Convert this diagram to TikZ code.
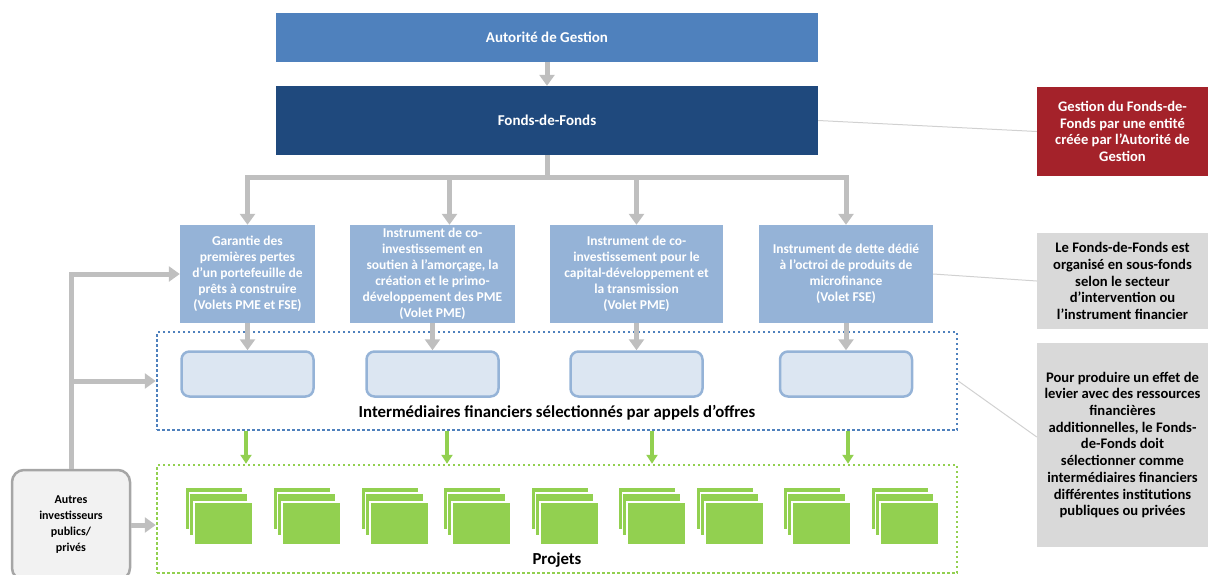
\documentclass[tikz,border=0pt]{standalone}
\usepackage{fontspec}
\setmainfont{Carlito}
\usetikzlibrary{arrows.meta,positioning}

\definecolor{autblue}{HTML}{4F81BD}
\definecolor{fdfblue}{HTML}{1F497D}
\definecolor{subblue}{HTML}{95B3D7}
\definecolor{intfill}{HTML}{DCE6F2}
\definecolor{arrowgray}{HTML}{BFBFBF}
\definecolor{notegray}{HTML}{D9D9D9}
\definecolor{notered}{HTML}{A4222A}
\definecolor{projgreen}{HTML}{92D050}
\definecolor{autresfill}{HTML}{F2F2F2}
\definecolor{autresdraw}{HTML}{A6A6A6}

\tikzset{
  boxfont/.style={font=\bfseries\fontsize{13.5}{16}\selectfont},
  topbox/.style={font=\bfseries\fontsize{15}{18}\selectfont, text=white, align=center, inner sep=0pt, minimum width=542pt},
  subbox/.style={boxfont, fill=subblue, text=white, align=center, inner sep=0pt, minimum height=98pt},
  intbox/.style={fill=intfill, draw=subblue, line width=2.5pt, rounded corners=8pt,
    minimum width=132pt, minimum height=45pt, inner sep=0pt},
  notebox/.style={font=\bfseries\fontsize{14.6}{16.7}\selectfont, align=center,
    inner sep=0pt, minimum width=171pt},
  biglabel/.style={font=\bfseries\fontsize{16.8}{20}\selectfont},
  grayarrow/.style={draw=arrowgray, line width=5pt, -{Triangle[width=15pt,length=11pt]}},
  greenarrow/.style={draw=projgreen, line width=3.5pt, -{Triangle[width=11pt,length=9pt]}},
  noteline/.style={draw=black!18, line width=1pt},
  doc/.style={fill=projgreen, draw=white, line width=1.2pt}
}

\begin{document}
\begin{tikzpicture}[x=1pt,y=-1pt]
  \useasboundingbox (0,0) rectangle (1208,574);
  \clip (0,0) rectangle (1208,574);

  % top of the structure
  \node[topbox, fill=autblue, minimum height=49pt] (autorite) at (547,37.5) {Autorité de Gestion};
  \node[topbox, fill=fdfblue, minimum height=69pt] (fdf) at (547,120.5) {Fonds-de-Fonds};

  % sous-fonds
  \node[subbox, minimum width=135pt] (sub1) at (247.5,274)
    {Garantie des\\premières pertes\\d’un portefeuille de\\prêts à construire\\(Volets PME et FSE)};
  \node[subbox, minimum width=165pt] (sub2) at (432.5,274)
    {Instrument de co-\\investissement en\\soutien à l’amorçage, la\\création et le primo-\\développement des PME\\(Volet PME)};
  \node[subbox, minimum width=173pt] (sub3) at (636.5,274)
    {Instrument de co-\\investissement pour le\\capital-développement et\\la transmission\\(Volet PME)};
  \node[subbox, minimum width=174pt] (sub4) at (846,274)
    {Instrument de dette dédié\\à l’octroi de produits de\\microfinance\\(Volet FSE)};

  % intermediaires
  \node[draw=autblue, line width=2.5pt, dash pattern=on 2.5pt off 2.5pt,
    minimum width=800pt, minimum height=98pt] (fi) at (557,381) {};
  \node[intbox] (im1) at (247.5,374) {};
  \node[intbox] (im2) at (432.5,374) {};
  \node[intbox] (im3) at (636.5,374) {};
  \node[intbox] (im4) at (846,374) {};
  \node[biglabel] (filabel) at (557,413)
    {Intermédiaires financiers sélectionnés par appels d’offres};

  % projets
  \node[draw=projgreen, line width=2.5pt, dash pattern=on 2.5pt off 2.5pt,
    minimum width=800pt, minimum height=108pt] (proj) at (557,519) {};
  \foreach \px in {194,282,370,452,540,627,705,792,880}{
    \draw[doc] (\px-9,487) rectangle ++(58,43);
    \draw[doc] (\px-4.5,493) rectangle ++(58,43);
    \draw[doc] (\px,502) rectangle ++(59,43);
  }
  \node[biglabel] (projlabel) at (557,560) {Projets};

  % autres investisseurs
  \node[font=\bfseries\fontsize{12}{16}\selectfont, fill=autresfill, draw=autresdraw, line width=2.5pt,
    rounded corners=12pt, align=center, minimum width=118pt, minimum height=110pt, inner sep=0pt]
    (autres) at (71,525) {Autres\\investisseurs\\publics/\\privés};

  % notes
  \node[notebox, fill=notered, text=white, minimum height=89pt] (gestion) at (1122.5,131.5)
    {Gestion du Fonds-de-\\Fonds par une entité\\créée par l’Autorité de\\Gestion};
  \node[notebox, fill=notegray, minimum height=96pt] (organise) at (1122.5,281)
    {Le Fonds-de-Fonds est\\organisé en sous-fonds\\selon le secteur\\d’intervention ou\\l’instrument financier};
  \node[notebox, fill=notegray, minimum height=204pt] (levier) at (1122.5,445)
    {Pour produire un effet de\\levier avec des ressources\\financières\\additionnelles, le Fonds-\\de-Fonds doit\\sélectionner comme\\intermédiaires financiers\\différentes institutions\\publiques ou privées};

  % arrows
  \coordinate (bar) at (0,177);
  \draw[grayarrow] (autorite) -- (fdf);
  \draw[grayarrow] (fdf.south) |- (sub1.north |- bar) -- (sub1.north);
  \draw[grayarrow] (fdf.south) |- ([xshift=17pt]sub2.north |- bar) -- ([xshift=17pt]sub2.north);
  \draw[grayarrow] (fdf.south) |- (sub3.north |- bar) -- (sub3.north);
  \draw[grayarrow] (fdf.south) |- (sub4.north |- bar) -- (sub4.north);
  \foreach \n in {1,2,3,4}{
    \draw[grayarrow] (sub\n.south) -- (im\n.north);
  }
  \foreach \gx in {246,447,652,848}{
    \draw[greenarrow] (\gx,0 |- fi.south) -- (\gx,0 |- proj.north);
  }
  \draw[grayarrow] (autres.north) |- (sub1.west);
  \draw[grayarrow] (autres.north) |- (fi.west);
  \draw[grayarrow] (autres.east) -- (autres.east -| proj.west);

  % notes connectors
  \draw[noteline] (fdf.east) -- (gestion.west);
  \draw[noteline] (sub4.east) -- (organise.west);
  \draw[noteline] (fi.east) -- ([yshift=8pt]levier.west);
\end{tikzpicture}
\end{document}
